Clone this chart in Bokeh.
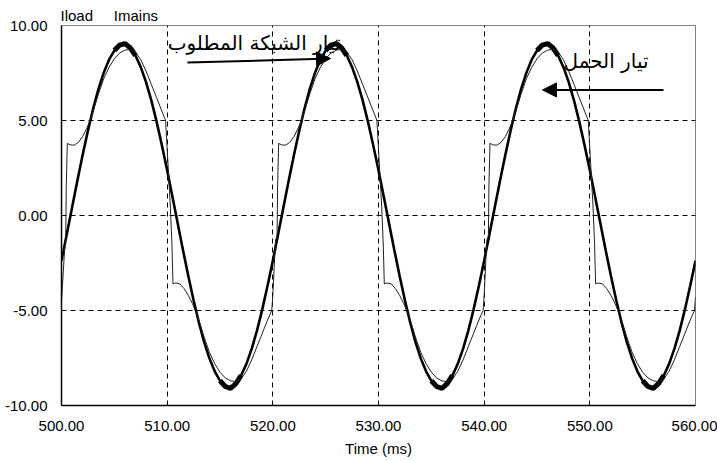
from bokeh.plotting import figure
from bokeh.models import FixedTicker, NumeralTickFormatter, Label, Arrow, NormalHead, Range1d
from bokeh.embed import file_html
from bokeh.resources import INLINE
import numpy as np

# ---------------- data ----------------
x_ticks = [500, 510, 520, 530, 540, 550, 560]
y_ticks = [-10, -5, 0, 5, 10]

# Imains (thick, near-sinusoidal), sampled every 0.5 ms from 500 to 560 ms
imains_t = list(np.arange(500.0, 560.001, 0.5))
imains_v = [
    -2.38, -0.99, 0.42, 1.83, 3.18, 4.46, 5.63, 6.66, 7.52, 8.20,
    8.68, 8.97, 9.05, 8.83, 8.42, 7.81, 7.02, 6.06, 4.94, 3.70,
    2.38, 0.99, -0.42, -1.83, -3.18, -4.46, -5.63, -6.66, -7.52, -8.20,
    -8.70, -9.00, -9.10, -8.85, -8.42, -7.81, -7.02, -6.06, -4.94, -3.70,
    -2.38, -0.99, 0.42, 1.83, 3.18, 4.46, 5.63, 6.66, 7.52, 8.20,
    8.68, 8.97, 9.05, 8.83, 8.42, 7.81, 7.02, 6.06, 4.94, 3.70,
    2.38, 0.99, -0.42, -1.83, -3.18, -4.46, -5.63, -6.66, -7.52, -8.20,
    -8.70, -9.00, -9.10, -8.85, -8.42, -7.81, -7.02, -6.06, -4.94, -3.70,
    -2.38, -0.99, 0.42, 1.83, 3.18, 4.46, 5.63, 6.66, 7.52, 8.20,
    8.68, 8.97, 9.05, 8.83, 8.42, 7.81, 7.02, 6.06, 4.94, 3.70,
    2.38, 0.99, -0.42, -1.83, -3.18, -4.46, -5.63, -6.66, -7.52, -8.20,
    -8.70, -9.00, -9.10, -8.85, -8.42, -7.81, -7.02, -6.06, -4.94, -3.70,
    -2.38,
]

# Iload (thin, distorted with steps)
iload_t = [
    500.0, 500.25, 500.4, 500.45, 500.55, 500.8, 501.2, 501.6, 502.0, 502.4,
    502.7, 503.0, 503.5, 504.0, 504.5, 505.0, 505.5, 506.0, 506.5, 507.0,
    507.5, 508.0, 508.5, 509.0, 509.5, 509.85, 510.1, 510.3, 510.45, 510.55,
    510.8, 511.2, 511.6, 512.0, 512.4, 512.8, 513.0, 513.5, 514.0, 514.5,
    515.0, 515.5, 516.0, 516.5, 517.0, 517.5, 518.0, 518.5, 519.0, 519.5,
    519.9,
    520.0, 520.25, 520.4, 520.45, 520.55, 520.8, 521.2, 521.6, 522.0, 522.4,
    522.7, 523.0, 523.5, 524.0, 524.5, 525.0, 525.5, 526.0, 526.5, 527.0,
    527.5, 528.0, 528.5, 529.0, 529.5, 529.85, 530.1, 530.3, 530.45, 530.55,
    530.8, 531.2, 531.6, 532.0, 532.4, 532.8, 533.0, 533.5, 534.0, 534.5,
    535.0, 535.5, 536.0, 536.5, 537.0, 537.5, 538.0, 538.5, 539.0, 539.5,
    539.9,
    540.0, 540.25, 540.4, 540.45, 540.55, 540.8, 541.2, 541.6, 542.0, 542.4,
    542.7, 543.0, 543.5, 544.0, 544.5, 545.0, 545.5, 546.0, 546.5, 547.0,
    547.5, 548.0, 548.5, 549.0, 549.5, 549.85, 550.1, 550.3, 550.45, 550.55,
    550.8, 551.2, 551.6, 552.0, 552.4, 552.8, 553.0, 553.5, 554.0, 554.5,
    555.0, 555.5, 556.0, 556.5, 557.0, 557.5, 558.0, 558.5, 559.0, 559.5,
    559.9, 560.0,
]
iload_v = [
    -4.5, -2.2, -1.1, 1.5, 3.8, 3.72, 3.7, 3.85, 4.15, 4.6,
    5.0, 5.5, 6.4, 7.2, 7.8, 8.25, 8.55, 8.7, 8.75, 8.6,
    8.2, 7.6, 6.9, 6.2, 5.5, 5.0, 2.5, 0.5, -1.5, -3.6,
    -3.55, -3.6, -3.85, -4.2, -4.65, -5.2, -5.5, -6.4, -7.2, -7.8,
    -8.25, -8.55, -8.7, -8.75, -8.6, -8.2, -7.6, -6.9, -6.2, -5.5,
    -5.0,
    -4.2, -1.3, -1.1, 1.5, 3.8, 3.72, 3.7, 3.85, 4.15, 4.6,
    5.0, 5.5, 6.4, 7.2, 7.8, 8.25, 8.55, 8.7, 8.75, 8.6,
    8.2, 7.6, 6.9, 6.2, 5.5, 5.0, 2.5, 0.5, -1.5, -3.6,
    -3.55, -3.6, -3.85, -4.2, -4.65, -5.2, -5.5, -6.4, -7.2, -7.8,
    -8.25, -8.55, -8.7, -8.75, -8.6, -8.2, -7.6, -6.9, -6.2, -5.5,
    -5.0,
    -4.2, -1.3, -1.1, 1.5, 3.8, 3.72, 3.7, 3.85, 4.15, 4.6,
    5.0, 5.5, 6.4, 7.2, 7.8, 8.25, 8.55, 8.7, 8.75, 8.6,
    8.2, 7.6, 6.9, 6.2, 5.5, 5.0, 2.5, 0.5, -1.5, -3.6,
    -3.55, -3.6, -3.85, -4.2, -4.65, -5.2, -5.5, -6.4, -7.2, -7.8,
    -8.25, -8.55, -8.7, -8.75, -8.6, -8.2, -7.6, -6.9, -6.2, -5.5,
    -5.0, -4.3,
]

series_names = ["Iload", "Imains"]
note_mains = "تيار الشبكة المطلوب"
note_load = "تيار الحمل"

# ---------------- figure ----------------
FONT = "Liberation Sans"

p = figure(width=717, height=461, output_backend="svg", toolbar_location=None,
           x_range=Range1d(500, 560), y_range=Range1d(-10, 10),
           min_border_left=61, min_border_right=22, min_border_top=25,
           min_border_bottom=56)
p.background_fill_color = "white"
p.border_fill_color = "white"
p.outline_line_color = "#808080"
p.outline_line_width = 1

# series names shown as a header line above the frame
p.title.text = series_names[0] + "\u00a0" * 5 + series_names[1]
p.title.align = "left"
p.title.text_font = FONT
p.title.text_font_size = "15px"
p.title.text_font_style = "normal"
p.title.text_color = "black"
p.title.standoff = 4
p.title.offset = -1

for ax in (p.xaxis, p.yaxis):
    ax.major_tick_line_color = None
    ax.minor_tick_line_color = None
    ax.axis_line_color = "black"
    ax.axis_line_width = 1.5
    ax.major_label_text_font = FONT
    ax.major_label_text_font_size = "15px"
    ax.major_label_text_color = "black"
    ax.formatter = NumeralTickFormatter(format="0.00")

p.xaxis.ticker = FixedTicker(ticks=x_ticks)
p.yaxis.ticker = FixedTicker(ticks=y_ticks)
p.xaxis.major_label_standoff = 9
p.yaxis.major_label_standoff = 8
p.xaxis.axis_label = "Time (ms)"
p.xaxis.axis_label_text_font = FONT
p.xaxis.axis_label_text_font_size = "15px"
p.xaxis.axis_label_text_font_style = "normal"
p.xaxis.axis_label_text_color = "black"
p.xaxis.axis_label_standoff = 6

p.xgrid.ticker = FixedTicker(ticks=x_ticks[1:-1])
p.ygrid.ticker = FixedTicker(ticks=y_ticks[1:-1])
for g in (p.xgrid, p.ygrid):
    g.grid_line_color = "black"
    g.grid_line_dash = "5 4"
    g.grid_line_width = 1

p.line(imains_t, imains_v, line_color="black", line_width=2.6)
# the mains trace looks heavier around its crests (ripple): redraw those parts wider
crest_v = [v if abs(v) >= 8.3 else float("nan") for v in imains_v]
p.line(imains_t, crest_v, line_color="black", line_width=5)
p.line(iload_t, iload_v, line_color="#222222", line_width=1)

# Arabic annotations with arrows
p.add_layout(Label(x=526.4, y=8.47, text=note_mains, text_align="right",
                   text_font="DejaVu Sans", text_font_size="20px", text_color="black"))
p.add_layout(Label(x=555.55, y=7.49, text=note_load, text_align="right",
                   text_font="DejaVu Sans", text_font_size="20px", text_color="black"))

p.add_layout(Arrow(end=NormalHead(size=14, fill_color="black", line_color="black"),
                   x_start=511.92, y_start=8.05, x_end=525.46, y_end=8.26,
                   line_width=2, line_color="black"))
p.add_layout(Arrow(end=NormalHead(size=14, fill_color="black", line_color="black"),
                   x_start=556.97, y_start=6.61, x_end=545.52, y_end=6.61,
                   line_width=2, line_color="black"))

open("out.html", "w").write(file_html(p, INLINE))
